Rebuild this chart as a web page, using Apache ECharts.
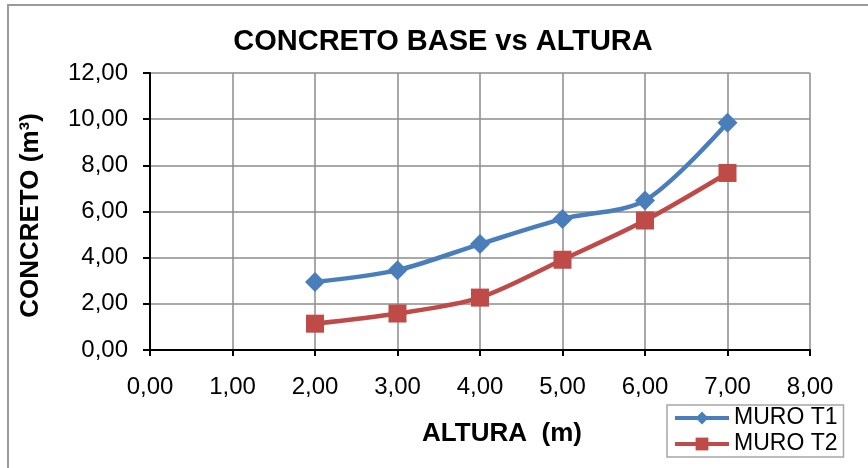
<!DOCTYPE html>
<html>
<head>
<meta charset="utf-8">
<script src="https://cdn.jsdelivr.net/npm/echarts@6/dist/echarts.min.js"></script>
<style>
html,body{margin:0;padding:0;background:#fff;}
#chart{width:868px;height:468px;}
</style>
</head>
<body>
<div id="chart"></div>
<script>
// Heights of the wall (m) and base concrete volumes (m³)
const alturas = [2, 3, 4, 5, 6, 7];
const muroT1 = [2.95, 3.46, 4.59, 5.68, 6.48, 9.84];
const muroT2 = [1.14, 1.58, 2.27, 3.91, 5.61, 7.67];
const seriesNames = ['MURO T1', 'MURO T2'];

const fmt = v => v.toFixed(2).replace('.', ',');
const pairs = (xs, ys) => xs.map((x, i) => [x, ys[i]]);

const chart = echarts.init(document.getElementById('chart'), null, {renderer: 'canvas'});
const font = 'Arial, "Liberation Sans", sans-serif';

chart.setOption({
  animation: false,
  backgroundColor: '#fff',
  graphic: [{
    type: 'rect',
    shape: {x: 8, y: 5, width: 880, height: 480},
    style: {fill: 'none', stroke: '#9a9a9a', lineWidth: 2},
    silent: true, z: -1
  }],
  title: {
    text: 'CONCRETO BASE vs ALTURA',
    left: 443, top: 27, textAlign: 'center', padding: 0,
    textStyle: {fontFamily: font, fontSize: 29, fontWeight: 'bold', color: '#000'}
  },
  legend: {
    data: seriesNames,
    orient: 'vertical',
    left: 667, top: 405,
    itemWidth: 54, itemHeight: 16, itemGap: 2,
    padding: [1, 6, 1, 6],
    borderColor: '#a6a6a6', borderWidth: 1.5,
    lineStyle: {width: 4},
    textStyle: {fontFamily: font, fontSize: 23, lineHeight: 24, color: '#000'}
  },
  grid: {left: 150, right: 58, top: 73, bottom: 118},
  xAxis: {
    type: 'value', min: 0, max: 8, interval: 1,
    name: 'ALTURA  (m)', nameLocation: 'middle', nameGap: 71,
    nameTextStyle: {fontFamily: font, fontSize: 26, fontWeight: 'bold', color: '#000', padding: [0, 0, 0, 44]},
    axisLine: {show: true, lineStyle: {color: '#000', width: 2}},
    axisTick: {show: true, length: 6, lineStyle: {color: '#000', width: 2}},
    axisLabel: {formatter: fmt, fontFamily: font, fontSize: 24, color: '#000', margin: 25},
    splitLine: {show: true, lineStyle: {color: '#8c8c8c', width: 1.5}}
  },
  yAxis: {
    type: 'value', min: 0, max: 12, interval: 2,
    name: 'CONCRETO (m³)', nameLocation: 'middle', nameGap: 106, nameRotate: 90,
    nameTextStyle: {fontFamily: font, fontSize: 26, fontWeight: 'bold', color: '#000', padding: [0, 0, 0, -8]},
    axisLine: {show: true, lineStyle: {color: '#000', width: 2}},
    axisTick: {show: true, length: 7, lineStyle: {color: '#000', width: 2}},
    axisLabel: {formatter: fmt, fontFamily: font, fontSize: 24, color: '#000', margin: 22},
    splitLine: {show: true, lineStyle: {color: '#8c8c8c', width: 1.5}}
  },
  series: [
    {
      name: seriesNames[0], type: 'line', smooth: 0.3,
      data: pairs(alturas, muroT1),
      symbol: 'diamond', symbolSize: 20,
      itemStyle: {color: '#4a7ebb'},
      lineStyle: {color: '#4a7ebb', width: 4.5}
    },
    {
      name: seriesNames[1], type: 'line', smooth: 0.3,
      data: pairs(alturas, muroT2),
      symbol: 'rect', symbolSize: 18,
      itemStyle: {color: '#be4b48'},
      lineStyle: {color: '#be4b48', width: 4.5}
    }
  ]
});
</script>
</body>
</html>
